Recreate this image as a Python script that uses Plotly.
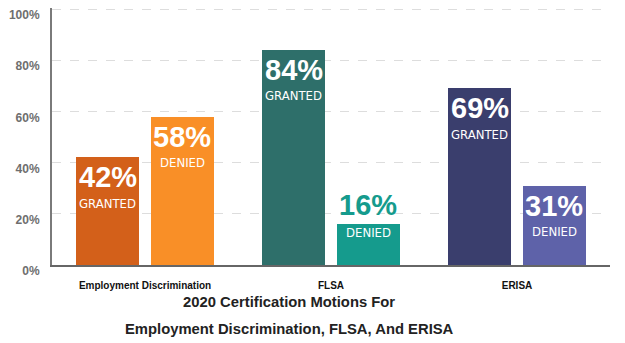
import plotly.graph_objects as go

# --- data -------------------------------------------------------------
categories = ["Employment Discrimination", "FLSA", "ERISA"]
granted = [42, 84, 69]
denied = [58, 16, 31]
y_tick_values = [0, 20, 40, 60, 80, 100]
y_tick_labels = ["0%", "20%", "40%", "60%", "80%", "100%"]
title_lines = ["2020 Certification Motions For",
               "Employment Discrimination, FLSA, And ERISA"]

# --- styling ----------------------------------------------------------
granted_colors = ["#D3601A", "#2E6F6A", "#3A3E6D"]
denied_colors = ["#F98F27", "#159B8D", "#5E62A9"]
BAR_W = 0.34
OFFSET = 0.2
NUM_FONT = dict(family="Liberation Sans, Arial, sans-serif", size=29, color="white")
SUB_FONT = dict(family="DejaVu Sans Condensed, Liberation Sans Narrow, Roboto, sans-serif",
                size=13, color="white", weight=300)

fig = go.Figure()
idx = list(range(len(categories)))

series = [
    ("GRANTED", granted, granted_colors, -OFFSET),
    ("DENIED", denied, denied_colors, OFFSET),
]

annotations = []
for name, values, colors, off in series:
    xs = [i + off for i in idx]
    fig.add_trace(go.Bar(
        x=xs, y=values, width=BAR_W, name=name,
        marker=dict(color=colors, line=dict(width=0)),
        hoverinfo="skip", showlegend=False,
    ))
    for x, v, c in zip(xs, values, colors):
        if v >= 25:
            # value and status both inside the bar
            annotations.append(dict(x=x, y=v, xref="x", yref="y", text=f"<b>{v}%</b>",
                                    showarrow=False, yanchor="middle", yshift=-20,
                                    font=NUM_FONT))
            annotations.append(dict(x=x, y=v, xref="x", yref="y", text=name,
                                    showarrow=False, yanchor="middle", yshift=-46,
                                    font=SUB_FONT))
        else:
            # short bar: value above, status inside
            annotations.append(dict(x=x, y=v, xref="x", yref="y", text=f"<b>{v}%</b>",
                                    showarrow=False, yanchor="middle", yshift=19,
                                    font=dict(NUM_FONT, color=c)))
            annotations.append(dict(x=x, y=v, xref="x", yref="y", text=name,
                                    showarrow=False, yanchor="middle", yshift=-8,
                                    font=SUB_FONT))

TITLE_FONT = dict(family="Liberation Sans, Arial, sans-serif", size=14.8, color="#222222")
for k, line in enumerate(title_lines):
    annotations.append(dict(x=0.425, y=0, xref="paper", yref="paper", text=f"<b>{line}</b>",
                            showarrow=False, yanchor="middle", xanchor="center",
                            yshift=-37 - 26.5 * k, font=TITLE_FONT))

fig.update_layout(
    width=625, height=343,
    margin=dict(l=52, r=15, t=8, b=78),
    plot_bgcolor="white", paper_bgcolor="white",
    annotations=annotations,
    bargap=0, barmode="overlay",
)

fig.update_xaxes(
    range=[-0.5, len(categories) - 0.5],
    tickmode="array", tickvals=idx, ticktext=[f"<b>{c}</b>" for c in categories],
    tickfont=dict(family="Liberation Sans, Arial, sans-serif", size=10, color="#111111"),
    showgrid=False, zeroline=False,
    showline=True, linecolor="#666666", linewidth=1.5,
    ticks="", ticklabelstandoff=10, automargin=False,
)

fig.update_yaxes(
    range=[0, 100.4],
    tickmode="array", tickvals=y_tick_values,
    ticktext=[f"<b>{t}</b>" for t in y_tick_labels],
    tickfont=dict(family="Liberation Sans, Arial, sans-serif", size=12, color="#6E6E6E"),
    showgrid=True, gridcolor="#DDDDDD", griddash="dash", gridwidth=1,
    zeroline=False,
    showline=True, linecolor="#7A7A7A", linewidth=2,
    ticks="", ticklabelshift=6, ticklabelstandoff=8,
    ticklabeloverflow="allow", automargin=False,
)

fig.write_html("out.html")
